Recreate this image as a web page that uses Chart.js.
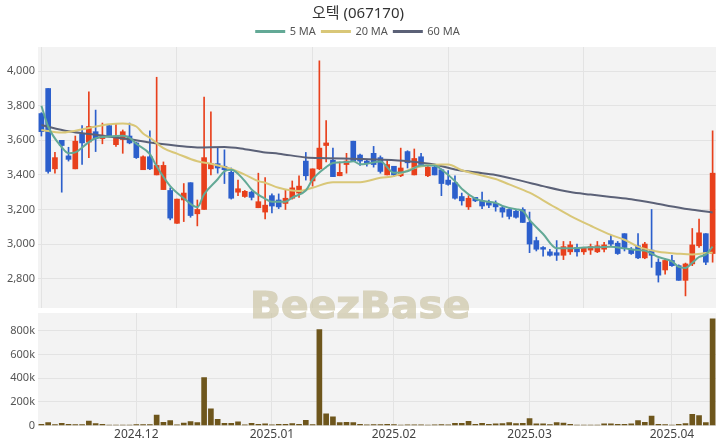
<!DOCTYPE html>
<html>
<head>
<meta charset="utf-8">
<script src="https://cdn.jsdelivr.net/npm/chart.js@4.4.1/dist/chart.umd.min.js"></script>
<style>
    html, body { margin: 0; padding: 0; background: #fff; }
    #wrap { position: relative; width: 720px; height: 448px; overflow: hidden; }
    #price  { position: absolute; left: 0; top: 0; }
    #volume { position: absolute; left: 0; top: 310px; }
    #mark {
        position: absolute; left: 0; top: 287px; width: 720px;
        text-align: center; font: bold 37px/37px 'DejaVu Sans', sans-serif;
        color: #cdc6a8; -webkit-text-stroke: 1.2px #cdc6a8; opacity: 0.72;
        transform: scaleX(1.1); transform-origin: 358px 0; pointer-events: none;
    }
</style>
</head>
<body>
<div id="wrap">
    <canvas id="price" width="720" height="310"></canvas>
    <canvas id="volume" width="720" height="138"></canvas>
    <div id="mark">BeezBase</div>
</div>
<script>
// Trading days shown on the chart.
const dates = [
    '2024-11-12','2024-11-13','2024-11-14','2024-11-15','2024-11-18','2024-11-19','2024-11-20','2024-11-21','2024-11-22','2024-11-25',
    '2024-11-26','2024-11-27','2024-11-28','2024-11-29','2024-12-02','2024-12-03','2024-12-04','2024-12-05','2024-12-06','2024-12-09',
    '2024-12-10','2024-12-11','2024-12-12','2024-12-13','2024-12-16','2024-12-17','2024-12-18','2024-12-19','2024-12-20','2024-12-23',
    '2024-12-24','2024-12-26','2024-12-27','2024-12-30','2025-01-02','2025-01-03','2025-01-06','2025-01-07','2025-01-08','2025-01-09',
    '2025-01-10','2025-01-13','2025-01-14','2025-01-15','2025-01-16','2025-01-17','2025-01-20','2025-01-21','2025-01-22','2025-01-23',
    '2025-01-24','2025-01-31','2025-02-03','2025-02-04','2025-02-05','2025-02-06','2025-02-07','2025-02-10','2025-02-11','2025-02-12',
    '2025-02-13','2025-02-14','2025-02-17','2025-02-18','2025-02-19','2025-02-20','2025-02-21','2025-02-24','2025-02-25','2025-02-26',
    '2025-02-27','2025-02-28','2025-03-03','2025-03-04','2025-03-05','2025-03-06','2025-03-07','2025-03-10','2025-03-11','2025-03-12',
    '2025-03-13','2025-03-14','2025-03-17','2025-03-18','2025-03-19','2025-03-20','2025-03-21','2025-03-24','2025-03-25','2025-03-26',
    '2025-03-27','2025-03-28','2025-03-31','2025-04-01','2025-04-02','2025-04-03','2025-04-04','2025-04-07','2025-04-08','2025-04-09'
];

const opens = [
    3755,3900,3435,3600,3510,3435,3635,3590,3650,3610,3685,3575,3605,3625,3585,3430,3505,3400,3315,3310,
    3120,3255,3355,3175,3200,3435,3465,3450,3415,3300,3275,3300,3210,3185,3280,3255,3235,3265,3295,3480,
    3365,3435,3570,3485,3395,3460,3595,3515,3480,3525,3500,3400,3450,3395,3535,3400,3505,3395,3445,3430,
    3370,3355,3275,3215,3270,3250,3240,3235,3210,3200,3190,3200,3125,3020,2980,2955,2950,2935,2955,2980,
    2955,2965,2955,2970,3020,3005,3060,2970,2990,2920,2965,2895,2850,2905,2875,2790,2885,2990,3060,2945
];
const highs = [
    3760,3900,3530,3600,3560,3625,3685,3880,3775,3700,3690,3695,3660,3700,3590,3510,3655,3965,3475,3325,
    3260,3350,3355,3255,3850,3765,3555,3545,3440,3370,3310,3305,3410,3385,3290,3290,3315,3365,3395,3530,
    3435,4060,3715,3555,3475,3525,3595,3520,3490,3565,3510,3490,3450,3555,3540,3550,3525,3450,3450,3435,
    3425,3395,3295,3280,3270,3300,3255,3250,3220,3205,3200,3210,3185,3040,2985,2970,3020,3015,3015,3000,
    2980,3000,3015,3010,3050,3015,3060,2980,3060,3010,3200,2915,2915,2935,2880,2890,3090,3145,3060,3655
];
const lows = [
    3625,3410,3410,3300,3480,3435,3460,3500,3535,3580,3620,3565,3525,3580,3495,3430,3430,3400,3315,3140,
    3120,3130,3155,3105,3200,3400,3410,3350,3260,3280,3270,3255,3210,3145,3180,3205,3200,3260,3270,3370,
    3335,3430,3475,3390,3395,3410,3480,3455,3450,3445,3410,3400,3390,3390,3440,3400,3450,3390,3400,3280,
    3340,3260,3225,3200,3245,3205,3210,3190,3155,3145,3150,3125,2950,2960,2930,2930,2905,2910,2940,2930,
    2940,2940,2950,2955,2985,2940,2960,2940,2915,2915,2865,2780,2825,2870,2790,2700,2875,2980,2880,2895
];
const closes = [
    3650,3420,3500,3570,3490,3595,3585,3680,3610,3630,3620,3625,3650,3585,3500,3505,3435,3455,3455,3150,
    3260,3295,3165,3200,3500,3465,3440,3430,3265,3320,3305,3270,3245,3225,3220,3215,3265,3325,3335,3395,
    3435,3555,3585,3390,3415,3480,3480,3480,3470,3460,3420,3460,3400,3440,3470,3495,3460,3445,3400,3350,
    3345,3265,3250,3265,3250,3220,3225,3215,3185,3160,3155,3125,3000,2970,2970,2935,2935,2985,2995,2955,
    2975,2985,2990,2995,3000,2945,2980,2945,2920,3000,2935,2820,2905,2875,2790,2885,2995,3065,2895,3410
];
const volumes = [
    10000,25000,8000,20000,11000,8000,8000,39000,17000,11000,5000,3000,3000,5000,8000,8000,8000,89000,28000,42000,
    6000,22000,33000,25000,405000,142000,53000,20000,20000,31000,6000,20000,11000,14000,6000,11000,11000,17000,11000,45000,
    8000,810000,100000,73000,25000,28000,25000,11000,6000,8000,9000,10000,9000,5000,6000,7000,6000,4000,6000,8000,
    7000,20000,20000,36000,11000,20000,11000,14000,17000,25000,17000,20000,59000,14000,14000,8000,25000,22000,11000,5000,
    3000,5000,5000,14000,14000,11000,11000,14000,42000,28000,81000,11000,8000,5000,11000,17000,95000,84000,25000,900000
];

// Moving averages: [day index, value].
const ma5 = [
    [0,3800],[1,3680],[3,3560],[4,3525],[5,3530],[7,3590],[8,3612],[10,3622],[12,3626],[13,3615],[14,3580],[16,3520],
    [17,3450],[19,3335],[21,3265],[23,3213],[24,3288],[26,3375],[27,3421],[28,3430],[30,3365],[31,3316],[33,3262],
    [34,3244],[36,3245],[37,3269],[39,3310],[40,3374],[42,3445],[43,3469],[45,3474],[46,3479],[47,3462],[48,3465],
    [50,3478],[52,3412],[54,3421],[56,3454],[58,3454],[59,3431],[61,3364],[62,3320],[64,3263],[65,3250],[67,3238],
    [68,3221],[70,3201],[71,3192],[72,3140],[74,3058],[76,2975],[78,2975],[80,2980],[82,2982],[84,2985],[86,2975],
    [88,2965],[89,2962],[90,2945],[91,2925],[93,2900],[94,2868],[95,2862],[96,2892],[97,2925],[98,2940],[99,2985]
];
const ma20 = [
    [0,3660],[3,3645],[7,3672],[10,3693],[12,3698],[14,3680],[15,3640],[16,3615],[18,3555],[20,3523],[23,3479],
    [25,3465],[28,3434],[30,3402],[32,3364],[33,3355],[35,3326],[38,3307],[40,3326],[43,3358],[47,3358],[50,3383],
    [52,3393],[55,3440],[59,3460],[60,3460],[62,3427],[65,3397],[67,3376],[69,3345],[72,3297],[75,3230],[78,3163],
    [81,3106],[84,3053],[86,3025],[88,2985],[91,2955],[94,2944],[96,2940],[98,2948],[99,2950]
];
const ma60 = [
    [0,3689],[4,3652],[8,3632],[13,3606],[16,3587],[20,3569],[23,3559],[27,3561],[30,3549],[33,3530],[35,3523],
    [39,3501],[42,3497],[47,3492],[50,3488],[54,3479],[58,3460],[61,3431],[64,3415],[67,3400],[71,3364],[74,3335],
    [78,3301],[81,3286],[84,3272],[87,3259],[92,3225],[96,3198],[99,3183]
];

const priceTicks  = [2800, 3000, 3200, 3400, 3600, 3800, 4000];
const volumeTicks = [0, 200000, 400000, 600000, 800000];

const UP = '#e8401c';
const DOWN = '#2c5fcc';
const GRID = '#e3e3e3';

Chart.defaults.font.family = "'Noto Sans', 'Noto Sans CJK KR', sans-serif";
Chart.defaults.color = '#555';

// Light grey plot background.
const plotBg = {
    id: 'plotBg',
    beforeDraw(chart) {
        const { ctx, chartArea: a } = chart;
        ctx.save();
        ctx.fillStyle = '#f3f3f3';
        ctx.fillRect(a.left, a.top, a.right - a.left, a.bottom - a.top);
        ctx.restore();
    }
};

// Fixed axis width, and no extra room kept for half tick labels.
function fixY(s) {
    s.width = 38;
    s.paddingTop = 0;
    s.paddingBottom = 0;
}

const candleColors = opens.map((o, i) => closes[i] >= o ? UP : DOWN);
const toPoints = arr => arr.map(([i, v]) => ({ x: dates[i], y: v }));

function maLine(label, arr, color) {
    return {
        type: 'line',
        label: label,
        data: toPoints(arr),
        borderColor: color,
        backgroundColor: color,
        borderWidth: 2,
        pointRadius: 0,
        cubicInterpolationMode: 'monotone',
        order: 0
    };
}

new Chart(document.getElementById('price'), {
    type: 'bar',
    data: {
        labels: dates,
        datasets: [
            maLine('5 MA', ma5, '#63a996'),
            maLine('20 MA', ma20, '#d9c778'),
            maLine('60 MA', ma60, '#5b6177'),
            {
                label: 'wick',
                data: lows.map((l, i) => [l, highs[i]]),
                backgroundColor: candleColors,
                barThickness: 1,
                grouped: false,
                order: 2
            },
            {
                label: 'body',
                data: opens.map((o, i) => [o, closes[i]]),
                backgroundColor: candleColors,
                barThickness: 5,
                grouped: false,
                order: 1
            }
        ]
    },
    options: {
        responsive: false,
        animation: false,
        layout: { padding: { right: 4, bottom: 2 } },
        plugins: {
            title: {
                display: true,
                text: '오텍 (067170)',
                color: '#333',
                font: { size: 15, weight: 'normal' },
                padding: { top: 5, bottom: -3 }
            },
            legend: {
                labels: {
                    filter: item => item.datasetIndex < 3,
                    boxWidth: 28,
                    boxHeight: 1,
                    padding: 6,
                    color: '#555',
                    font: { size: 11 }
                }
            },
            tooltip: { enabled: false }
        },
        scales: {
            x: {
                offset: true,
                border: { display: false },
                grid: { color: GRID, offset: false, drawTicks: false },
                ticks: { display: false },
                afterBuildTicks: s => { s.ticks = s.ticks.filter(t => t.value % 20 === 0); }
            },
            y: {
                min: 2630,
                max: 4140,
                border: { display: false },
                grid: { color: GRID, drawTicks: false },
                afterBuildTicks: s => { s.ticks = priceTicks.map(v => ({ value: v })); },
                afterFit: fixY,
                ticks: {
                    padding: 3,
                    font: { size: 11 },
                    callback: v => v.toLocaleString('en-US')
                }
            }
        }
    },
    plugins: [plotBg]
});

// Month starts get a label and a grid line on the volume panel.
const monthStarts = dates.map((d, i) => i).filter(i => i > 0 && dates[i].slice(0, 7) !== dates[i - 1].slice(0, 7));

new Chart(document.getElementById('volume'), {
    type: 'bar',
    data: {
        labels: dates,
        datasets: [{
            label: 'Volume',
            data: volumes,
            backgroundColor: '#6e561c',
            barThickness: 5
        }]
    },
    options: {
        responsive: false,
        animation: false,
        layout: { padding: { top: 3, right: 4, bottom: 4 } },
        plugins: {
            legend: { display: false },
            tooltip: { enabled: false }
        },
        scales: {
            x: {
                offset: true,
                border: { display: false },
                grid: { color: GRID, offset: false, drawTicks: false },
                afterBuildTicks: s => { s.ticks = monthStarts.map(i => ({ value: i })); },
                ticks: {
                    autoSkip: false,
                    maxRotation: 0,
                    padding: 2,
                    color: '#444',
                    font: { size: 12 },
                    callback: v => dates[v].slice(0, 7).replace('-', '.')
                }
            },
            y: {
                min: 0,
                max: 950000,
                border: { display: false },
                grid: { color: GRID, drawTicks: false },
                afterBuildTicks: s => { s.ticks = volumeTicks.map(v => ({ value: v })); },
                afterFit: fixY,
                ticks: {
                    padding: 3,
                    font: { size: 11 },
                    callback: v => v === 0 ? '0' : (v / 1000) + 'k'
                }
            }
        }
    },
    plugins: [plotBg]
});
</script>
</body>
</html>
